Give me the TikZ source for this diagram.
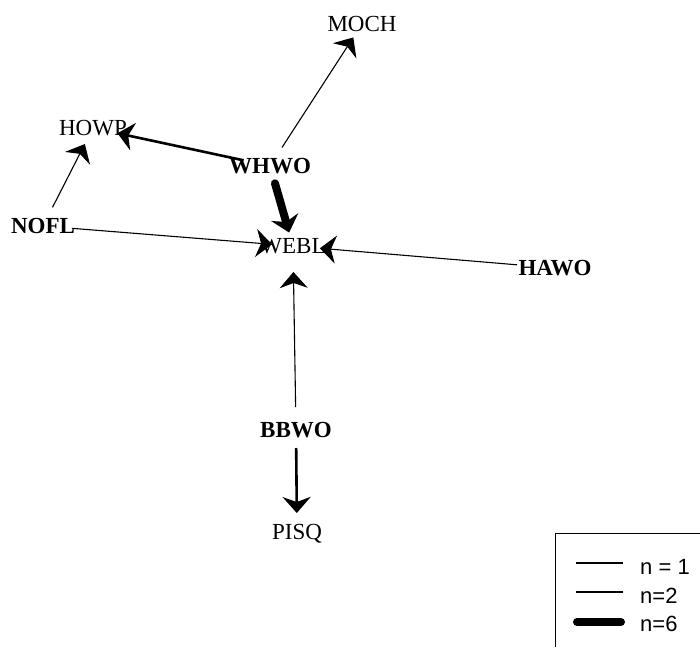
\documentclass[tikz,border=0pt]{standalone}
\usepackage{fontspec}
\setmainfont{Liberation Serif}
\newfontfamily\legfont{Liberation Sans}
\usetikzlibrary{arrows.meta}
\tikzset{
  lbl/.style={inner sep=0pt, text height=15pt, text depth=0pt, font=\fontsize{23}{23}\selectfont},
  blbl/.style={lbl, font=\fontsize{23}{23}\selectfont\bfseries},
  tip/.style={-{Stealth[length=16pt,width=28pt,inset=5pt]}},
  n1/.style={tip, line width=1.1pt},
  n2/.style={tip, line width=2.6pt},
  n6/.style={tip, line width=8pt, line cap=round},
  legtxt/.style={anchor=west, inner sep=0pt, font=\legfont\fontsize{22}{22}\selectfont},
}
\begin{document}
\begin{tikzpicture}[x=1pt,y=-1pt]
\useasboundingbox[fill=white] (0,0) rectangle (700,647);
% nodes
\node[lbl]  (moch) at (362,24)  {MOCH};
\node[lbl]  (howp) at (93,128)  {HOWP};
\node[blbl] (whwo) at (270,166) {WHWO};
\node[blbl] (nofl) at (43,226)  {NOFL};
\node[lbl]  (webl) at (293,246) {WEBL};
\node[blbl] (hawo) at (555,268) {HAWO};
\node[blbl] (bbwo) at (296,430) {BBWO};
\node[lbl]  (pisq) at (297,532) {PISQ};
% edges
\draw[n1, shorten <=22pt, shorten >=16pt] (whwo.center) -- (moch.center);
\draw[n2, shorten <=27pt, shorten >=25pt] (whwo.center) -- (howp.center);
\draw[n1, shorten <=21pt, shorten >=18pt] (nofl.center) -- (howp.center);
\draw[n6, shorten <=18pt, shorten >=14pt] (whwo.center) -- (webl.center);
\draw[n1, shorten <=29pt, shorten >=21pt] (nofl.center) -- (webl.center);
\draw[n1, shorten <=38pt, shorten >=27pt] (hawo.center) -- (webl.center);
\draw[n1, shorten <=23pt, shorten >=26pt] (bbwo.center) -- (webl.center);
\draw[n2, shorten <=18pt, shorten >=19pt] (bbwo.center) -- (pisq.center);
% legend
\draw[line width=1pt] (555,647) -- (555,533) -- (700,533);
\coordinate (l1a) at (576,563); \coordinate (l1b) at (623,563);
\coordinate (l2a) at (576,592); \coordinate (l2b) at (623,592);
\coordinate (l6a) at (577,622); \coordinate (l6b) at (621,622);
\draw[line width=1.1pt] (l1a) -- (l1b);
\draw[line width=2.6pt] (l2a) -- (l2b);
\draw[line width=8pt, line cap=round] (l6a) -- (l6b);
\node[legtxt] (t1) at (640,567) {n = 1};
\node[legtxt] (t2) at (640,596) {n=2};
\node[legtxt] (t6) at (640,624) {n=6};
\end{tikzpicture}
\end{document}
